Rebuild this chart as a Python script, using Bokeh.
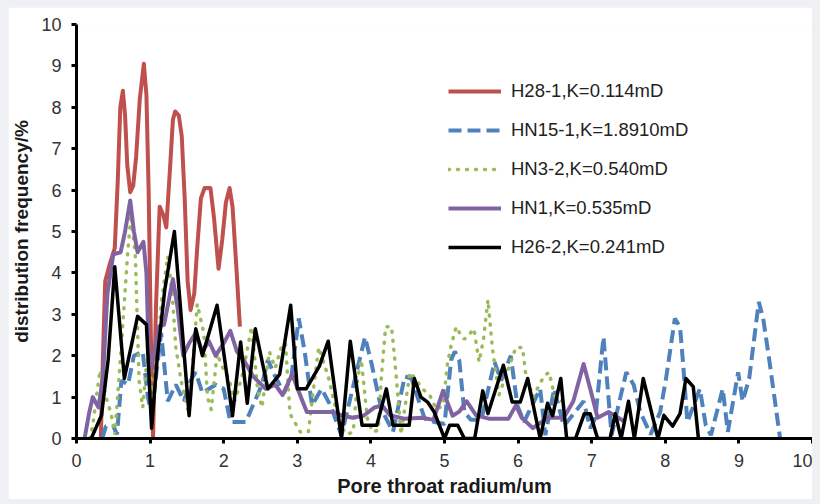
from bokeh.plotting import figure
from bokeh.models import Range1d, Legend, LegendItem
from bokeh.embed import file_html
from bokeh.resources import INLINE

x_ticks = list(range(0, 11))
y_ticks = list(range(0, 11))

labels = ["H28-1,K=0.114mD", "HN15-1,K=1.8910mD", "HN3-2,K=0.540mD",
          "HN1,K=0.535mD", "H26-2,K=0.241mD"]

red_x = [0.33, 0.36, 0.39, 0.45, 0.52, 0.56, 0.595, 0.63, 0.66, 0.69, 0.73, 0.77, 0.81, 0.86, 0.915,
         0.95, 0.98, 1.01, 1.04, 1.08, 1.13, 1.18, 1.22, 1.27, 1.31, 1.34, 1.39, 1.43, 1.47, 1.51,
         1.55, 1.6, 1.64, 1.69, 1.74, 1.82, 1.87, 1.93, 1.98, 2.03, 2.08, 2.12, 2.17, 2.22]
red_y = [0.0, 2.0, 3.8, 4.2, 4.6, 6.2, 8.0, 8.4, 7.8, 6.6, 5.95, 6.1, 6.8, 8.2, 9.05,
         8.3, 6.0, 2.5, 0.0, 3.2, 5.6, 5.4, 5.1, 6.5, 7.7, 7.9, 7.8, 7.3, 5.8, 3.8,
         3.1, 3.5, 4.6, 5.8, 6.05, 6.05, 5.3, 4.1, 4.8, 5.7, 6.05, 5.6, 4.2, 2.7]

blue_x = [0.35, 0.4, 0.5, 0.55, 0.61, 0.7, 0.78, 0.9, 0.97, 1.02, 1.15, 1.24, 1.35, 1.46, 1.55,
          1.62, 1.71, 1.89, 2.0, 2.09, 2.3, 2.52, 2.6, 2.7, 2.82, 2.92, 3.02, 3.1, 3.2, 3.33,
          3.45, 3.6, 3.92, 4.01, 4.14, 4.3, 4.46, 4.55, 4.73, 4.86, 5.0, 5.09, 5.14, 5.2, 5.27,
          5.36, 5.5, 5.68, 5.77, 5.9, 5.99, 6.08, 6.3, 6.37, 6.49, 6.62, 6.89, 6.98, 7.05, 7.16,
          7.27, 7.39, 7.47, 7.57, 7.66, 7.8, 7.93, 8.01, 8.13, 8.2, 8.24, 8.3, 8.47, 8.55, 8.62,
          8.78, 8.85, 8.99, 9.05, 9.14, 9.27, 9.33, 9.41, 9.56]
blue_y = [0.0, 0.3, 0.3, 0.1, 1.4, 1.3, 2.0, 2.1, 1.0, 0.6, 2.55, 0.9, 1.3, 0.9, 1.4,
          1.6, 1.1, 1.3, 1.2, 0.4, 0.4, 1.3, 1.9, 1.5, 1.1, 1.5, 2.9, 2.1, 0.8, 1.2,
          0.8, 0.08, 2.45, 1.8, 0.72, 0.16, 1.5, 1.45, 0.48, 0.4, 0.35, 1.9, 2.1, 1.9, 0.64,
          0.45, 0.45, 1.85, 1.4, 2.0, 0.8, 0.4, 1.2, 0.08, 1.2, 0.3, 0.9, 0.25, 0.5, 2.45,
          0.08, 1.0, 1.6, 1.3, 0.64, 0.1, 0.64, 1.45, 2.9, 2.7, 1.85, 0.4, 1.2, 0.32, 0.08,
          1.2, 0.16, 1.6, 0.9, 1.45, 3.3, 2.9, 1.93, 0.0]

green_x = [0.18, 0.22, 0.27, 0.32, 0.4, 0.47, 0.52, 0.6, 0.7, 0.74, 0.8, 0.85, 0.9, 0.97, 1.03,
           1.1, 1.16, 1.24, 1.3, 1.35, 1.42, 1.53, 1.58, 1.64, 1.73, 1.78, 1.83, 1.91, 1.99, 2.07,
           2.15, 2.25, 2.38, 2.46, 2.52, 2.62, 2.7, 2.79, 2.84, 2.9, 3.04, 3.15, 3.22, 3.29, 3.42,
           3.58, 3.68, 3.76, 3.82, 3.87, 3.95, 4.02, 4.1, 4.14, 4.2, 4.28, 4.32, 4.41, 4.53, 4.6,
           4.7, 4.8, 4.89, 4.98, 5.04, 5.09, 5.16, 5.22, 5.27, 5.33, 5.4, 5.47, 5.53, 5.59, 5.65,
           5.74, 5.85, 5.97, 6.06, 6.1, 6.2, 6.35, 6.42, 6.5, 6.6]
green_y = [0.0, 0.3, 1.0, 1.65, 1.0, 0.6, 0.1, 2.0, 4.6, 5.4, 4.4, 1.4, 0.75, 2.2, 1.0,
           2.2, 3.4, 4.4, 3.5, 2.2, 1.4, 0.55, 1.8, 3.25, 2.55, 1.0, 0.7, 2.05, 1.7, 1.45,
           0.9, 1.5, 2.7, 1.2, 0.75, 2.1, 1.7, 2.25, 2.3, 0.6, 0.16, 0.16, 1.2, 2.2, 1.5,
           0.3, 0.1, 0.16, 1.45, 1.9, 0.5, 0.16, 0.2, 1.45, 2.7, 2.7, 2.0, 0.1, 1.6, 1.45,
           1.2, 1.05, 0.7, 0.8, 1.8, 2.25, 2.7, 2.5, 2.4, 2.5, 2.65, 1.85, 2.4, 3.35, 2.2,
           1.05, 1.6, 2.2, 2.2, 1.6, 1.0, 1.5, 1.6, 1.0, 0.9]

purple_x = [0.11, 0.17, 0.22, 0.3, 0.36, 0.42, 0.5, 0.6, 0.66, 0.73, 0.78, 0.83, 0.91, 0.95, 0.99,
            1.05, 1.12, 1.19, 1.25, 1.31, 1.37, 1.45, 1.53, 1.62, 1.71, 1.8, 1.89, 2.0, 2.09, 2.18,
            2.27, 2.4, 2.57, 2.7, 2.8, 2.93, 3.04, 3.13, 3.3, 3.5, 3.6, 3.75, 3.9, 4.05, 4.15,
            4.26, 4.45, 4.7, 4.85, 4.98, 5.11, 5.2, 5.3, 5.43, 5.6, 5.87, 5.97, 6.05, 6.2, 6.4,
            6.62, 6.75, 6.89, 6.98, 7.08, 7.23, 7.32, 7.45]
purple_y = [0.0, 0.6, 1.0, 0.75, 1.5, 3.5, 4.45, 4.5, 5.0, 5.75, 5.0, 4.5, 4.75, 4.0, 1.6,
            2.0, 2.7, 2.75, 3.3, 3.85, 3.2, 2.0, 2.3, 2.55, 2.1, 2.35, 2.0, 2.3, 2.6, 2.1,
            1.9, 1.5, 1.2, 1.3, 1.05, 1.55, 1.04, 0.64, 0.64, 0.64, 0.56, 0.5, 0.55, 0.75, 0.8,
            0.56, 0.48, 0.5, 0.45, 1.15, 0.55, 0.65, 0.9, 0.56, 0.48, 0.48, 0.8, 0.5, 0.25, 0.5,
            0.5, 0.9, 1.8, 1.2, 0.5, 0.64, 0.55, 0.4]

black_x = [0.2, 0.34, 0.43, 0.52, 0.65, 0.83, 0.95, 1.02, 1.1, 1.2, 1.33, 1.53, 1.62, 1.71, 1.91,
           2.12, 2.23, 2.32, 2.43, 2.6, 2.76, 2.91, 3.0, 3.12, 3.3, 3.42, 3.6, 3.72, 3.88, 4.08,
           4.21, 4.3, 4.52, 4.59, 4.68, 4.77, 4.86, 5.0, 5.07, 5.18, 5.27, 5.41, 5.52, 5.59, 5.8,
           5.92, 6.03, 6.13, 6.3, 6.4, 6.47, 6.58, 6.66, 6.78, 6.9, 6.98, 7.08, 7.25, 7.32, 7.4,
           7.5, 7.58, 7.7, 7.9, 7.98, 8.1, 8.2, 8.28, 8.38, 8.45]
black_y = [0.0, 0.56, 1.9, 4.15, 1.45, 2.95, 2.75, 0.25, 2.0, 3.6, 5.0, 0.55, 2.65, 2.0, 3.22,
           0.55, 2.33, 0.85, 2.65, 1.2, 1.55, 3.22, 1.2, 1.2, 1.75, 2.35, 0.0, 2.35, 0.32, 0.32,
           1.2, 0.32, 0.32, 1.45, 1.0, 0.88, 0.64, 0.0, 0.32, 0.32, 0.0, 0.0, 1.15, 0.6, 1.77,
           0.88, 0.88, 1.45, 0.0, 0.85, 0.55, 1.45, 0.0, 0.0, 0.6, 0.6, 0.0, 0.0, 0.6, 0.0,
           0.9, 0.0, 1.45, 0.0, 0.56, 0.3, 0.6, 1.45, 1.25, 0.0]

FONT = "Liberation Sans"

p = figure(width=804, height=492, output_backend="svg", toolbar_location=None,
           x_range=Range1d(0, 10), y_range=Range1d(0, 10),
           min_border_left=67, min_border_right=0, min_border_top=17, min_border_bottom=60)
p.outline_line_color = None
p.background_fill_color = "white"
p.border_fill_color = "white"
p.xgrid.visible = False
p.ygrid.visible = False

r_red = p.line(red_x, red_y, line_color="#C0504D", line_width=4, line_join="round")
r_blue = p.line(blue_x, blue_y, line_color="#4F81BD", line_width=4, line_dash="13 6")
r_green = p.line(green_x, green_y, line_color="#9BBB59", line_width=3.5, line_dash="1 8",
                 line_cap="round")
r_purple = p.line(purple_x, purple_y, line_color="#8064A2", line_width=4, line_join="round")
r_black = p.line(black_x, black_y, line_color="black", line_width=3.5, line_join="round")

p.xaxis.ticker = x_ticks
p.yaxis.ticker = y_ticks
for ax in (p.xaxis, p.yaxis):
    ax.axis_line_width = 3
    ax.axis_line_color = "black"
    ax.major_tick_line_width = 3
    ax.major_tick_line_color = "black"
    ax.major_tick_in = 0
    ax.major_tick_out = 5
    ax.minor_tick_line_color = None
    ax.major_label_text_font = FONT
    ax.major_label_text_font_size = "18px"
    ax.major_label_text_color = "#333333"
    ax.major_label_standoff = 10
    ax.axis_label_text_font = FONT
    ax.axis_label_text_font_style = "bold"
    ax.axis_label_text_color = "#1a1a1a"

p.xaxis.axis_label = "Pore throat radium/um"
p.xaxis.axis_label_text_font_size = "20px"
p.xaxis.axis_label_standoff = 5
p.yaxis.axis_label = "distribution frequency/%"
p.yaxis.axis_label_text_font_size = "19px"
p.yaxis.axis_label_standoff = 6

legend = Legend(items=[LegendItem(label=l, renderers=[r]) for l, r in
                       zip(labels, [r_red, r_blue, r_green, r_purple, r_black])],
                location=(372, 180), glyph_width=53, glyph_height=20, label_height=20,
                spacing=17, padding=0, margin=0, border_line_color=None,
                background_fill_alpha=0, label_text_font=FONT, label_text_font_size="18.5px",
                label_text_color="#222222", label_standoff=10)
p.add_layout(legend)

html = file_html(p, INLINE)
html = html.replace("</head>",
                    "<style>html,body{background:#eef0f3;} body{padding:7px 0 0 8px !important;}</style></head>",
                    1)
open("out.html", "w").write(html)
